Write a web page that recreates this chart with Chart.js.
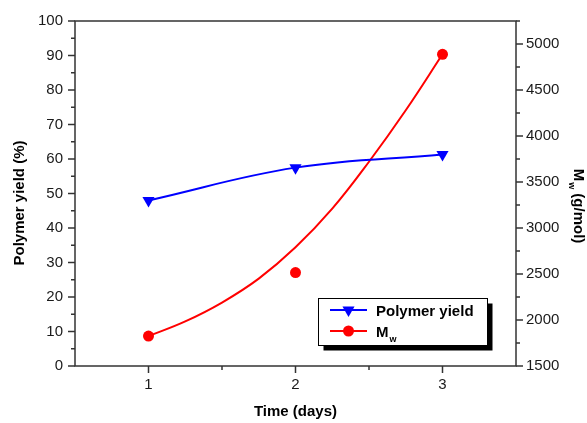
<!DOCTYPE html>
<html>
<head>
<meta charset="utf-8">
<script src="https://cdn.jsdelivr.net/npm/chart.js"></script>
<style>
  html, body { margin: 0; padding: 0; background: #fff; }
  canvas { display: block; }
</style>
</head>
<body>
<canvas id="yieldChart" width="587" height="423"></canvas>
<script>
// values
const days = [1, 2, 3];
const polymerYield = [48, 57.5, 61.3];
const mw = [1825, 2515, 4888];
// the red fitted curve, read at quarter days
const fitDays = [1, 1.25, 1.5, 1.75, 2, 2.25, 2.5, 2.75, 3];
const mwFit = [1825, 1985, 2190, 2450, 2790, 3210, 3720, 4280, 4888];

const dayTicks = [1, 2, 3];
const yieldTicks = [0, 10, 20, 30, 40, 50, 60, 70, 80, 90, 100];
const mwTicks = [1500, 2000, 2500, 3000, 3500, 4000, 4500, 5000];

const FONT = "'Liberation Sans', Arial, sans-serif";
Chart.defaults.font.family = FONT;
Chart.defaults.color = '#1a1a1a';

function toPoints(xs, ys) {
    return xs.map((x, i) => ({ x, y: ys[i] }));
}

function line(ctx, x1, y1, x2, y2) {
    ctx.beginPath();
    ctx.moveTo(x1, y1);
    ctx.lineTo(x2, y2);
    ctx.stroke();
}

// frame, minor/major ticks, axis titles and the boxed legend
const framePlugin = {
    id: 'frame',
    afterDraw(chart) {
        const { ctx, chartArea: a, scales } = chart;
        ctx.save();
        ctx.strokeStyle = '#333';
        ctx.lineWidth = 1.5;
        ctx.strokeRect(a.left, a.top, a.right - a.left, a.bottom - a.top);

        for (let v = 0; v <= 100; v += 5) {
            const y = scales.y.getPixelForValue(v);
            line(ctx, a.left - (v % 10 === 0 ? 7 : 4), y, a.left, y);
        }
        for (let v = 1500; v <= 5250; v += 250) {
            const y = scales.y1.getPixelForValue(v);
            line(ctx, a.right, y, a.right + (v % 500 === 0 ? 7 : 4), y);
        }
        for (let v = 1; v <= 3; v += 0.5) {
            const x = scales.x.getPixelForValue(v);
            line(ctx, x, a.bottom, x, a.bottom + (Number.isInteger(v) ? 7 : 4));
        }

        // axis titles
        ctx.fillStyle = '#000';
        ctx.font = 'bold 15px ' + FONT;
        ctx.textAlign = 'center';
        ctx.textBaseline = 'alphabetic';
        ctx.fillText('Time (days)', (a.left + a.right) / 2, 416);

        ctx.save();
        ctx.translate(24, 203);
        ctx.rotate(-Math.PI / 2);
        ctx.fillText('Polymer yield (%)', 0, 0);
        ctx.restore();

        ctx.save();
        ctx.textAlign = 'left';
        const mW = ctx.measureText('M').width;
        ctx.font = 'bold 9px ' + FONT;
        const wW = ctx.measureText('w').width;
        ctx.font = 'bold 15px ' + FONT;
        const restW = ctx.measureText(' (g/mol)').width;
        const total = mW + wW + 1 + restW;
        ctx.translate(574, 206);
        ctx.rotate(Math.PI / 2);
        let tx = -total / 2;
        ctx.fillText('M', tx, 0);
        tx += mW + 1;
        ctx.font = 'bold 9px ' + FONT;
        ctx.fillText('w', tx, 5);
        tx += wW;
        ctx.font = 'bold 15px ' + FONT;
        ctx.fillText(' (g/mol)', tx, 0);
        ctx.restore();

        // legend box with drop shadow
        const bx = 318.5, by = 298.5, bw = 169, bh = 47;
        ctx.fillStyle = '#000';
        ctx.fillRect(bx + 5, by + 5, bw, bh);
        ctx.fillStyle = '#fff';
        ctx.fillRect(bx, by, bw, bh);
        ctx.strokeStyle = '#000';
        ctx.lineWidth = 1;
        ctx.strokeRect(bx, by, bw, bh);

        ctx.lineWidth = 2;
        ctx.strokeStyle = '#0000ff';
        line(ctx, 330, 310, 367, 310);
        ctx.fillStyle = '#0000ff';
        Chart.helpers.drawPoint(ctx, { pointStyle: 'triangle', rotation: 180, radius: 7, borderWidth: 0 }, 348.5, 310);

        ctx.strokeStyle = '#ff0000';
        line(ctx, 330, 331, 367, 331);
        ctx.fillStyle = '#ff0000';
        Chart.helpers.drawPoint(ctx, { pointStyle: 'circle', radius: 5.5, borderWidth: 0 }, 348.5, 331);

        ctx.fillStyle = '#000';
        ctx.textAlign = 'left';
        ctx.font = 'bold 15px ' + FONT;
        ctx.fillText('Polymer yield', 376, 315.5);
        ctx.fillText('M', 376, 336.5);
        const mw2 = ctx.measureText('M').width;
        ctx.font = 'bold 9px ' + FONT;
        ctx.fillText('w', 376 + mw2 + 1, 342);
        ctx.restore();
    }
};

const ctx = document.getElementById('yieldChart').getContext('2d');
new Chart(ctx, {
    type: 'scatter',
    data: {
        datasets: [
            {
                label: 'Polymer yield',
                data: toPoints(days, polymerYield),
                yAxisID: 'y',
                showLine: true,
                tension: 0.4,
                borderColor: '#0000ff',
                backgroundColor: '#0000ff',
                borderWidth: 2,
                pointStyle: 'triangle',
                pointRotation: 180,
                pointRadius: 7,
                pointBorderWidth: 0
            },
            {
                label: 'Mw fit',
                data: toPoints(fitDays, mwFit),
                yAxisID: 'y1',
                showLine: true,
                tension: 0.4,
                borderColor: '#ff0000',
                borderWidth: 2,
                pointRadius: 0
            },
            {
                label: 'Mw',
                data: toPoints(days, mw),
                yAxisID: 'y1',
                showLine: false,
                backgroundColor: '#ff0000',
                borderColor: '#ff0000',
                pointRadius: 5.5,
                pointBorderWidth: 0
            }
        ]
    },
    options: {
        responsive: false,
        animation: false,
        layout: { padding: { top: 20 } },
        plugins: { legend: { display: false }, tooltip: { enabled: false } },
        scales: {
            x: {
                type: 'linear', min: 0.5, max: 3.5,
                grid: { display: false, drawTicks: false },
                border: { display: false },
                ticks: { padding: 10, font: { size: 15 }, callback: v => String(v) },
                afterBuildTicks: s => { s.ticks = dayTicks.map(v => ({ value: v })); },
                afterFit: s => { s.height = 57; }
            },
            y: {
                position: 'left', min: 0, max: 100,
                grid: { display: false, drawTicks: false },
                border: { display: false },
                ticks: { padding: 12, font: { size: 15 }, callback: v => String(v) },
                afterBuildTicks: s => { s.ticks = yieldTicks.map(v => ({ value: v })); },
                afterFit: s => { s.width = 75; }
            },
            y1: {
                position: 'right', min: 1500, max: 5250,
                grid: { display: false, drawTicks: false },
                border: { display: false },
                ticks: { padding: 10, font: { size: 15 }, callback: v => String(v) },
                afterBuildTicks: s => { s.ticks = mwTicks.map(v => ({ value: v })); },
                afterFit: s => { s.width = 71; }
            }
        }
    },
    plugins: [framePlugin]
});
</script>
</body>
</html>
